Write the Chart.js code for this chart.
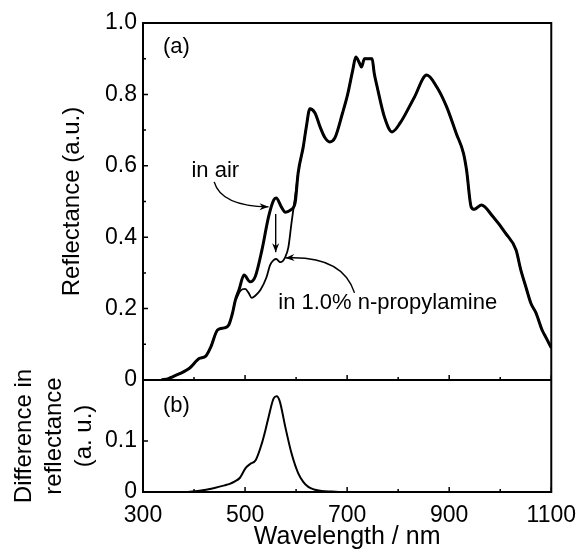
<!DOCTYPE html>
<html>
<head>
<meta charset="utf-8">
<script src="https://cdn.jsdelivr.net/npm/chart.js@4.4.1/dist/chart.umd.min.js"></script>
<style>
  html, body { margin: 0; padding: 0; background: #fff; }
  canvas { display: block; }
</style>
</head>
<body>
<canvas id="chart" width="586" height="553"></canvas>
<script>
// (a) reflectance in air
const airNm = [336, 350, 358, 391, 410, 423, 433, 446, 459, 468, 475, 481, 488, 498, 510,
  520, 533, 546, 556, 561, 571, 579, 589, 598, 604, 614, 620, 627, 637, 647, 656, 666, 676,
  691, 701, 711, 717, 724, 728, 734, 749, 753, 759, 773, 788, 804, 831, 856, 876, 895, 914,
  928, 934, 943, 949, 963, 986, 1011, 1031, 1040, 1050, 1060, 1070, 1082, 1090, 1100];
const airR = [0, 0.004, 0.009, 0.033, 0.06, 0.067, 0.093, 0.14, 0.146, 0.154, 0.185, 0.224, 0.252, 0.294, 0.275,
  0.29, 0.364, 0.457, 0.504, 0.51, 0.485, 0.47, 0.476, 0.496, 0.58, 0.653, 0.709, 0.76, 0.748, 0.709, 0.68, 0.667, 0.678,
  0.748, 0.8, 0.868, 0.905, 0.888, 0.877, 0.9, 0.9, 0.86, 0.82, 0.737, 0.695, 0.72, 0.79, 0.854, 0.82, 0.765, 0.69,
  0.635, 0.588, 0.485, 0.478, 0.49, 0.457, 0.41, 0.364, 0.31, 0.262, 0.215, 0.188, 0.14, 0.118, 0.09];

// (a) in 1.0% n-propylamine, only where it leaves the in-air curve
const propNm = [482, 491, 500, 507, 513, 520, 530, 542, 549, 556, 561, 569, 579, 585, 591, 598, 604];
const propR = [0.226, 0.25, 0.255, 0.244, 0.23, 0.236, 0.252, 0.288, 0.322, 0.336, 0.339, 0.33, 0.345, 0.373, 0.44, 0.513, 0.58];

// (b) difference in reflectance
const diffNm = [350, 380, 420, 440, 460, 470, 480, 490, 501, 510, 521, 533, 540, 546, 556, 562,
  568, 579, 591, 604, 614, 624, 635, 650, 670, 700, 1100];
const diffR = [0, 0, 0.004, 0.008, 0.013, 0.016, 0.021, 0.028, 0.047, 0.055, 0.063, 0.096, 0.122, 0.147, 0.184, 0.188,
  0.178, 0.127, 0.076, 0.037, 0.02, 0.01, 0.005, 0.002, 0.001, 0, 0];

const xLabels = [300, 500, 700, 900, 1100];
const topLabels = [0, 0.2, 0.4, 0.6, 0.8, 1.0];
const bottomLabels = [0, 0.1];

const pts = (xs, ys) => xs.map((x, i) => ({ x: x, y: ys[i] }));
const airPts = pts(airNm, airR);
// outside its own window the propylamine trace lies on the in-air one
const propPts = airPts.filter(p => p.x < propNm[0])
  .concat(pts(propNm, propR))
  .concat(airPts.filter(p => p.x > propNm[propNm.length - 1]));

const FONT = '"Liberation Sans", Arial, Helvetica, sans-serif';
Chart.defaults.font.family = FONT;
Chart.defaults.color = '#000';

// labels and arrows, placed in data units
const notes = [
  { text: '(a)', x: 339, y: 0.916, axis: 'y' },
  { text: 'in air', x: 395, y: 0.569, axis: 'y' },
  { text: 'in 1.0% n-propylamine', x: 565, y: 0.199, axis: 'y' },
  { text: '(b)', x: 339, y: 0.157, axis: 'y2' }
];
const arrows = [
  { from: [439.5, 0.555], ctrl: [453, 0.487], to: [546, 0.485] },
  { from: [560, 0.465], ctrl: [560, 0.41], to: [560, 0.358] },
  { from: [714.5, 0.244], ctrl: [691, 0.35], to: [579, 0.342] }
];

const decorations = {
  id: 'decorations',
  afterDatasetsDraw(chart) {
    const { ctx, chartArea: a, scales } = chart;
    const { x, y, y2 } = scales;
    ctx.save();
    ctx.strokeStyle = '#000';
    ctx.fillStyle = '#000';

    // frame and divider
    ctx.lineWidth = 2;
    ctx.strokeRect(a.left, a.top, a.right - a.left, a.bottom - a.top);
    ctx.beginPath();
    ctx.moveTo(a.left, y.bottom);
    ctx.lineTo(a.right, y.bottom);
    ctx.stroke();

    // inward ticks
    ctx.lineWidth = 1.5;
    ctx.beginPath();
    for (let v = 300; v <= 1100; v += 100) {
      const px = x.getPixelForValue(v);
      const len = (v - 300) % 200 === 0 ? 5 : 3;
      [y.bottom, y2.bottom].forEach(b => {
        ctx.moveTo(px, b);
        ctx.lineTo(px, b - len);
      });
    }
    for (let i = 1; i < 10; i++) {
      const py = y.getPixelForValue(i / 10);
      ctx.moveTo(a.left, py);
      ctx.lineTo(a.left + (i % 2 === 0 ? 5 : 3), py);
    }
    const py2 = y2.getPixelForValue(0.1);
    ctx.moveTo(a.left, py2);
    ctx.lineTo(a.left + 5, py2);
    ctx.stroke();

    // text
    ctx.font = '22px ' + FONT;
    ctx.textBaseline = 'alphabetic';
    ctx.textAlign = 'left';
    notes.forEach(n => {
      ctx.fillText(n.text, x.getPixelForValue(n.x), scales[n.axis].getPixelForValue(n.y));
    });

    // arrows
    ctx.lineWidth = 1.4;
    arrows.forEach(ar => {
      const p0 = [x.getPixelForValue(ar.from[0]), y.getPixelForValue(ar.from[1])];
      const c = [x.getPixelForValue(ar.ctrl[0]), y.getPixelForValue(ar.ctrl[1])];
      const p1 = [x.getPixelForValue(ar.to[0]), y.getPixelForValue(ar.to[1])];
      ctx.beginPath();
      ctx.moveTo(p0[0], p0[1]);
      ctx.quadraticCurveTo(c[0], c[1], p1[0], p1[1]);
      ctx.stroke();
      const ang = Math.atan2(p1[1] - c[1], p1[0] - c[0]);
      const L = 9, W = 3.5;
      ctx.beginPath();
      ctx.moveTo(p1[0], p1[1]);
      ctx.lineTo(p1[0] - L * Math.cos(ang) + W * Math.sin(ang), p1[1] - L * Math.sin(ang) - W * Math.cos(ang));
      ctx.lineTo(p1[0] - L * 0.7 * Math.cos(ang), p1[1] - L * 0.7 * Math.sin(ang));
      ctx.lineTo(p1[0] - L * Math.cos(ang) - W * Math.sin(ang), p1[1] - L * Math.sin(ang) + W * Math.cos(ang));
      ctx.closePath();
      ctx.fill();
    });
    ctx.restore();
  }
};

new Chart(document.getElementById('chart'), {
  type: 'line',
  data: {
    datasets: [
      { label: 'in air', data: airPts, yAxisID: 'y', borderColor: '#000', borderWidth: 3 },
      { label: 'in 1.0% n-propylamine', data: propPts, yAxisID: 'y', borderColor: '#000', borderWidth: 1.8 },
      { label: 'difference', data: pts(diffNm, diffR), yAxisID: 'y2', borderColor: '#000', borderWidth: 2 }
    ]
  },
  options: {
    responsive: false,
    animation: false,
    parsing: false,
    elements: {
      point: { radius: 0 },
      line: { cubicInterpolationMode: 'monotone', fill: false }
    },
    layout: { padding: { top: 23, right: 30, left: 0, bottom: 0 } },
    plugins: { legend: { display: false }, tooltip: { enabled: false } },
    scales: {
      x: {
        type: 'linear', min: 300, max: 1100, position: 'bottom',
        grid: { display: false, drawTicks: false }, border: { display: false },
        afterBuildTicks: s => { s.ticks = xLabels.map(v => ({ value: v })); },
        afterFit: s => { s.height = 61; },
        ticks: { padding: 10, font: { size: 23 }, color: '#000', callback: v => String(v) },
        title: { display: true, text: 'Wavelength / nm', font: { size: 25 }, color: '#000', padding: { top: 0, bottom: 1 } }
      },
      y: {
        type: 'linear', min: 0, max: 1.0, position: 'left',
        stack: 'panels', stackWeight: 357, weight: 1,
        grid: { display: false, drawTicks: false }, border: { display: false },
        afterBuildTicks: s => { s.ticks = topLabels.map(v => ({ value: v })); },
        afterFit: s => { s.width = 143; },
        ticks: { padding: 6, font: { size: 23 }, color: '#000', autoSkip: false,
          callback: v => v === 0 ? '0' : v.toFixed(1) },
        title: { display: true, text: 'Reflectance (a.u.)', font: { size: 24, lineHeight: 1.25 }, color: '#000', padding: { top: 57, bottom: 0 } }
      },
      y2: {
        type: 'linear', min: 0, max: 0.22, position: 'left',
        stack: 'panels', stackWeight: 112, weight: 0,
        grid: { display: false, drawTicks: false }, border: { display: false },
        afterBuildTicks: s => { s.ticks = bottomLabels.map(v => ({ value: v })); },
        afterFit: s => { s.width = 143; },
        ticks: { padding: 6, font: { size: 23 }, color: '#000', autoSkip: false,
          callback: v => v === 0 ? '0' : v.toFixed(1) },
        title: { display: true, text: ['Difference in', 'reflectance', '(a. u.)'], font: { size: 24, lineHeight: 1.25 }, color: '#000', padding: { top: 9, bottom: 0 } }
      }
    }
  },
  plugins: [decorations]
});
</script>
</body>
</html>
